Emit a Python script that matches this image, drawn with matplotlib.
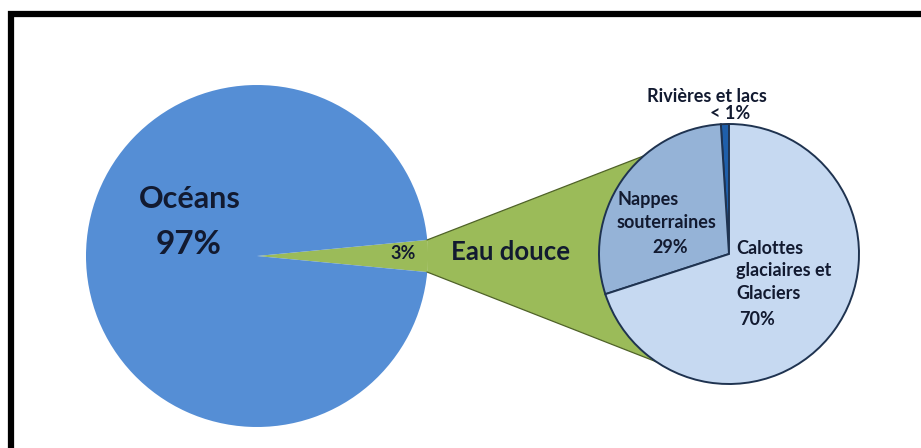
import numpy as np
import matplotlib
matplotlib.use("Agg")
import matplotlib.pyplot as plt
from matplotlib.patches import Polygon, Rectangle

plt.rcParams['font.family'] = ['Lato', 'DejaVu Sans']

# Water on Earth: salt vs fresh, then the fresh-water breakdown
main_labels = ["Eau douce", "Océans"]
main_values = [3, 97]
main_colors = ["#9BBB59", "#558ED5"]

fresh_labels = ["Rivières et lacs", "Nappes souterraines", "Calottes glaciaires et Glaciers"]
fresh_values = [1, 29, 70]
fresh_colors = ["#1F5FAA", "#95B3D7", "#C6D9F1"]

W, H = 921, 448
fig = plt.figure(figsize=(W / 100, H / 100), dpi=100)
ax = fig.add_axes([0, 0, 1, 1])
ax.set_xlim(0, W)
ax.set_ylim(0, H)
ax.set_aspect("equal")
ax.axis("off")

def Y(y):
    return H - y

txt = "#121A30"

# main pie
c1 = (257, Y(256))
r1 = 171
half = main_values[0] / sum(main_values) * 360 / 2
ax.pie(main_values, colors=main_colors, startangle=-half, counterclock=True,
       center=c1, radius=r1, frame=True, wedgeprops=dict(linewidth=0))

# fresh-water pie
c2 = (729, Y(254))
r2 = 130

# connector between the 3% wedge and the fresh-water pie
a_top, a_bot = np.radians(131), np.radians(236)
p_top = (c1[0] + r1 * np.cos(np.radians(half)), c1[1] + r1 * np.sin(np.radians(half)))
p_bot = (c1[0] + r1 * np.cos(np.radians(-half)), c1[1] + r1 * np.sin(np.radians(-half)))
t_top = (c2[0] + r2 * np.cos(a_top), c2[1] + r2 * np.sin(a_top))
t_bot = (c2[0] + r2 * np.cos(a_bot), c2[1] + r2 * np.sin(a_bot))
ax.add_patch(Polygon([p_top, t_top, c2, t_bot, p_bot], closed=True,
                     facecolor=main_colors[0], edgecolor="none", zorder=2))
ax.plot([p_top[0], t_top[0]], [p_top[1], t_top[1]], color="#4F6228", lw=0.9, zorder=3)
ax.plot([p_bot[0], t_bot[0]], [p_bot[1], t_bot[1]], color="#4F6228", lw=0.9, zorder=3)

wedges, _ = ax.pie(fresh_values, colors=fresh_colors, startangle=90, counterclock=True,
                   center=c2, radius=r2, frame=True,
                   wedgeprops=dict(linewidth=1.4, edgecolor="#1F3350"))
for w in wedges:
    w.set_zorder(4)

ax.set_xlim(0, W)
ax.set_ylim(0, H)
ax.axis("off")

# labels
ax.text(190, Y(199), "Océans", ha="center", va="center", fontsize=22, fontweight="bold", color=txt, zorder=6)
ax.text(189, Y(244), f"{main_values[1]}%", ha="center", va="center", fontsize=24, fontweight="bold", color=txt, zorder=6)
ax.text(403, Y(253), f"{main_values[0]}%", ha="center", va="center", fontsize=13, fontweight="bold", color=txt, zorder=6)
ax.text(510, Y(252), main_labels[0], ha="center", va="center", fontsize=18.5, fontweight="bold", color=txt, zorder=6)

fs = 13
ax.text(617, Y(199), "Nappes", ha="left", va="center", fontsize=fs, fontweight="bold", color=txt, zorder=6)
ax.text(617, Y(222), "souterraines", ha="left", va="center", fontsize=fs, fontweight="bold", color=txt, zorder=6)
ax.text(670, Y(247), f"{fresh_values[1]}%", ha="center", va="center", fontsize=fs, fontweight="bold", color=txt, zorder=6)

ax.text(736, Y(248), "Calottes", ha="left", va="center", fontsize=fs, fontweight="bold", color=txt, zorder=6)
ax.text(736, Y(270), "glaciaires et", ha="left", va="center", fontsize=fs, fontweight="bold", color=txt, zorder=6)
ax.text(736, Y(293), "Glaciers", ha="left", va="center", fontsize=fs, fontweight="bold", color=txt, zorder=6)
ax.text(757, Y(319), f"{fresh_values[2]}%", ha="center", va="center", fontsize=fs, fontweight="bold", color=txt, zorder=6)

ax.text(707, Y(96), fresh_labels[0], ha="center", va="center", fontsize=fs, fontweight="bold", color=txt, zorder=6)
ax.text(730, Y(113), f"< {fresh_values[0]}%", ha="center", va="center", fontsize=fs, fontweight="bold", color=txt, zorder=6)

# black frame, running off the right and bottom edges
ax.add_patch(Rectangle((11, -20), W + 20, Y(14) + 20, fill=False, edgecolor="black",
                       linewidth=4.5, zorder=10, clip_on=False))

fig.savefig("out.png", dpi=100, facecolor="white")
